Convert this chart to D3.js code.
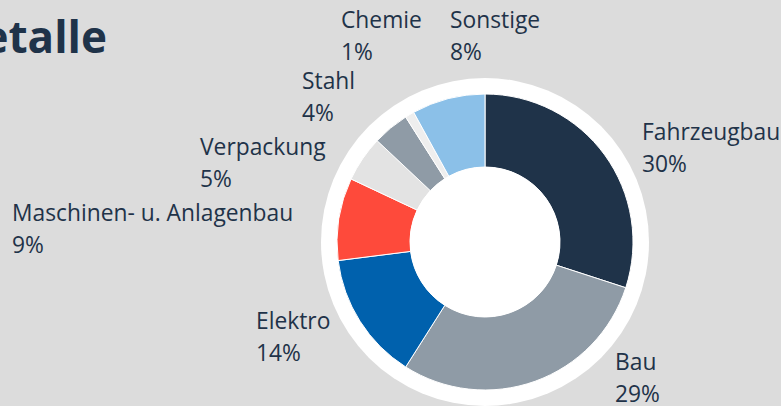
<!DOCTYPE html>
<html>
<head>
<meta charset="utf-8">
<script src="https://cdn.jsdelivr.net/npm/d3@7"></script>
<style>
  html, body { margin: 0; padding: 0; background: #dcdcdc; }
  svg { display: block; }
  .label { font-family: 'Open Sans', sans-serif; font-size: 22.8px; fill: #1f3349; }
  .title { font-family: 'Open Sans', sans-serif; font-size: 44px; font-weight: 700; fill: #1f3349; }
</style>
</head>
<body>
<div id="chart"></div>
<script>
// Share of demand by sector (%)
const categories = ['Fahrzeugbau', 'Bau', 'Elektro', 'Maschinen- u. Anlagenbau', 'Verpackung', 'Stahl', 'Chemie', 'Sonstige'];
const shares = [30, 29, 14, 9, 5, 4, 1, 8];
const colors = ['#1f3349', '#8f9ba6', '#0061ad', '#fe4a3b', '#e3e3e3', '#8f9ba6', '#eeeeee', '#8bc0e8'];

const width = 781;
const height = 406;
const cx = 485;
const cy = 242;
const outerR = 148;
const innerR = 75;
const ringR = 164;

// label anchor (left edge, first baseline) relative to the donut centre
const labelOffsets = [
  [157, -102], [130, 128], [-229, 87], [-473, -21],
  [-285, -87], [-183, -153], [-144, -214], [-35, -214],
];

const svg = d3
  .select('#chart')
  .append('svg')
  .attr('width', width)
  .attr('height', height);

svg.append('rect').attr('width', width).attr('height', height).attr('fill', '#dcdcdc');

svg
  .append('text')
  .attr('class', 'title')
  .attr('x', 107)
  .attr('y', 53)
  .attr('text-anchor', 'end')
  .text('Metalle');

const g = svg.append('g').attr('transform', `translate(${cx},${cy})`);

// white ring behind the donut
g.append('circle').attr('r', ringR).attr('fill', '#ffffff');

const pie = d3.pie().sort(null).value((d) => d.value);
const arc = d3.arc().innerRadius(innerR).outerRadius(outerR);

const data = categories.map((c, i) => ({ name: c, value: shares[i], color: colors[i] }));

g.selectAll('path.slice')
  .data(pie(data))
  .enter()
  .append('path')
  .attr('class', 'slice')
  .attr('d', arc)
  .attr('fill', (d) => d.data.color)
  .attr('stroke', '#ffffff')
  .attr('stroke-width', 1);

// hole
g.append('circle').attr('r', innerR).attr('fill', '#ffffff');

const labels = g
  .selectAll('text.label')
  .data(data)
  .enter()
  .append('text')
  .attr('class', 'label')
  .attr('x', (d, i) => labelOffsets[i][0])
  .attr('y', (d, i) => labelOffsets[i][1]);

labels.append('tspan').text((d) => d.name);
labels
  .append('tspan')
  .attr('x', (d, i) => labelOffsets[i][0])
  .attr('dy', 32)
  .text((d) => `${d.value}%`);
</script>
</body>
</html>
